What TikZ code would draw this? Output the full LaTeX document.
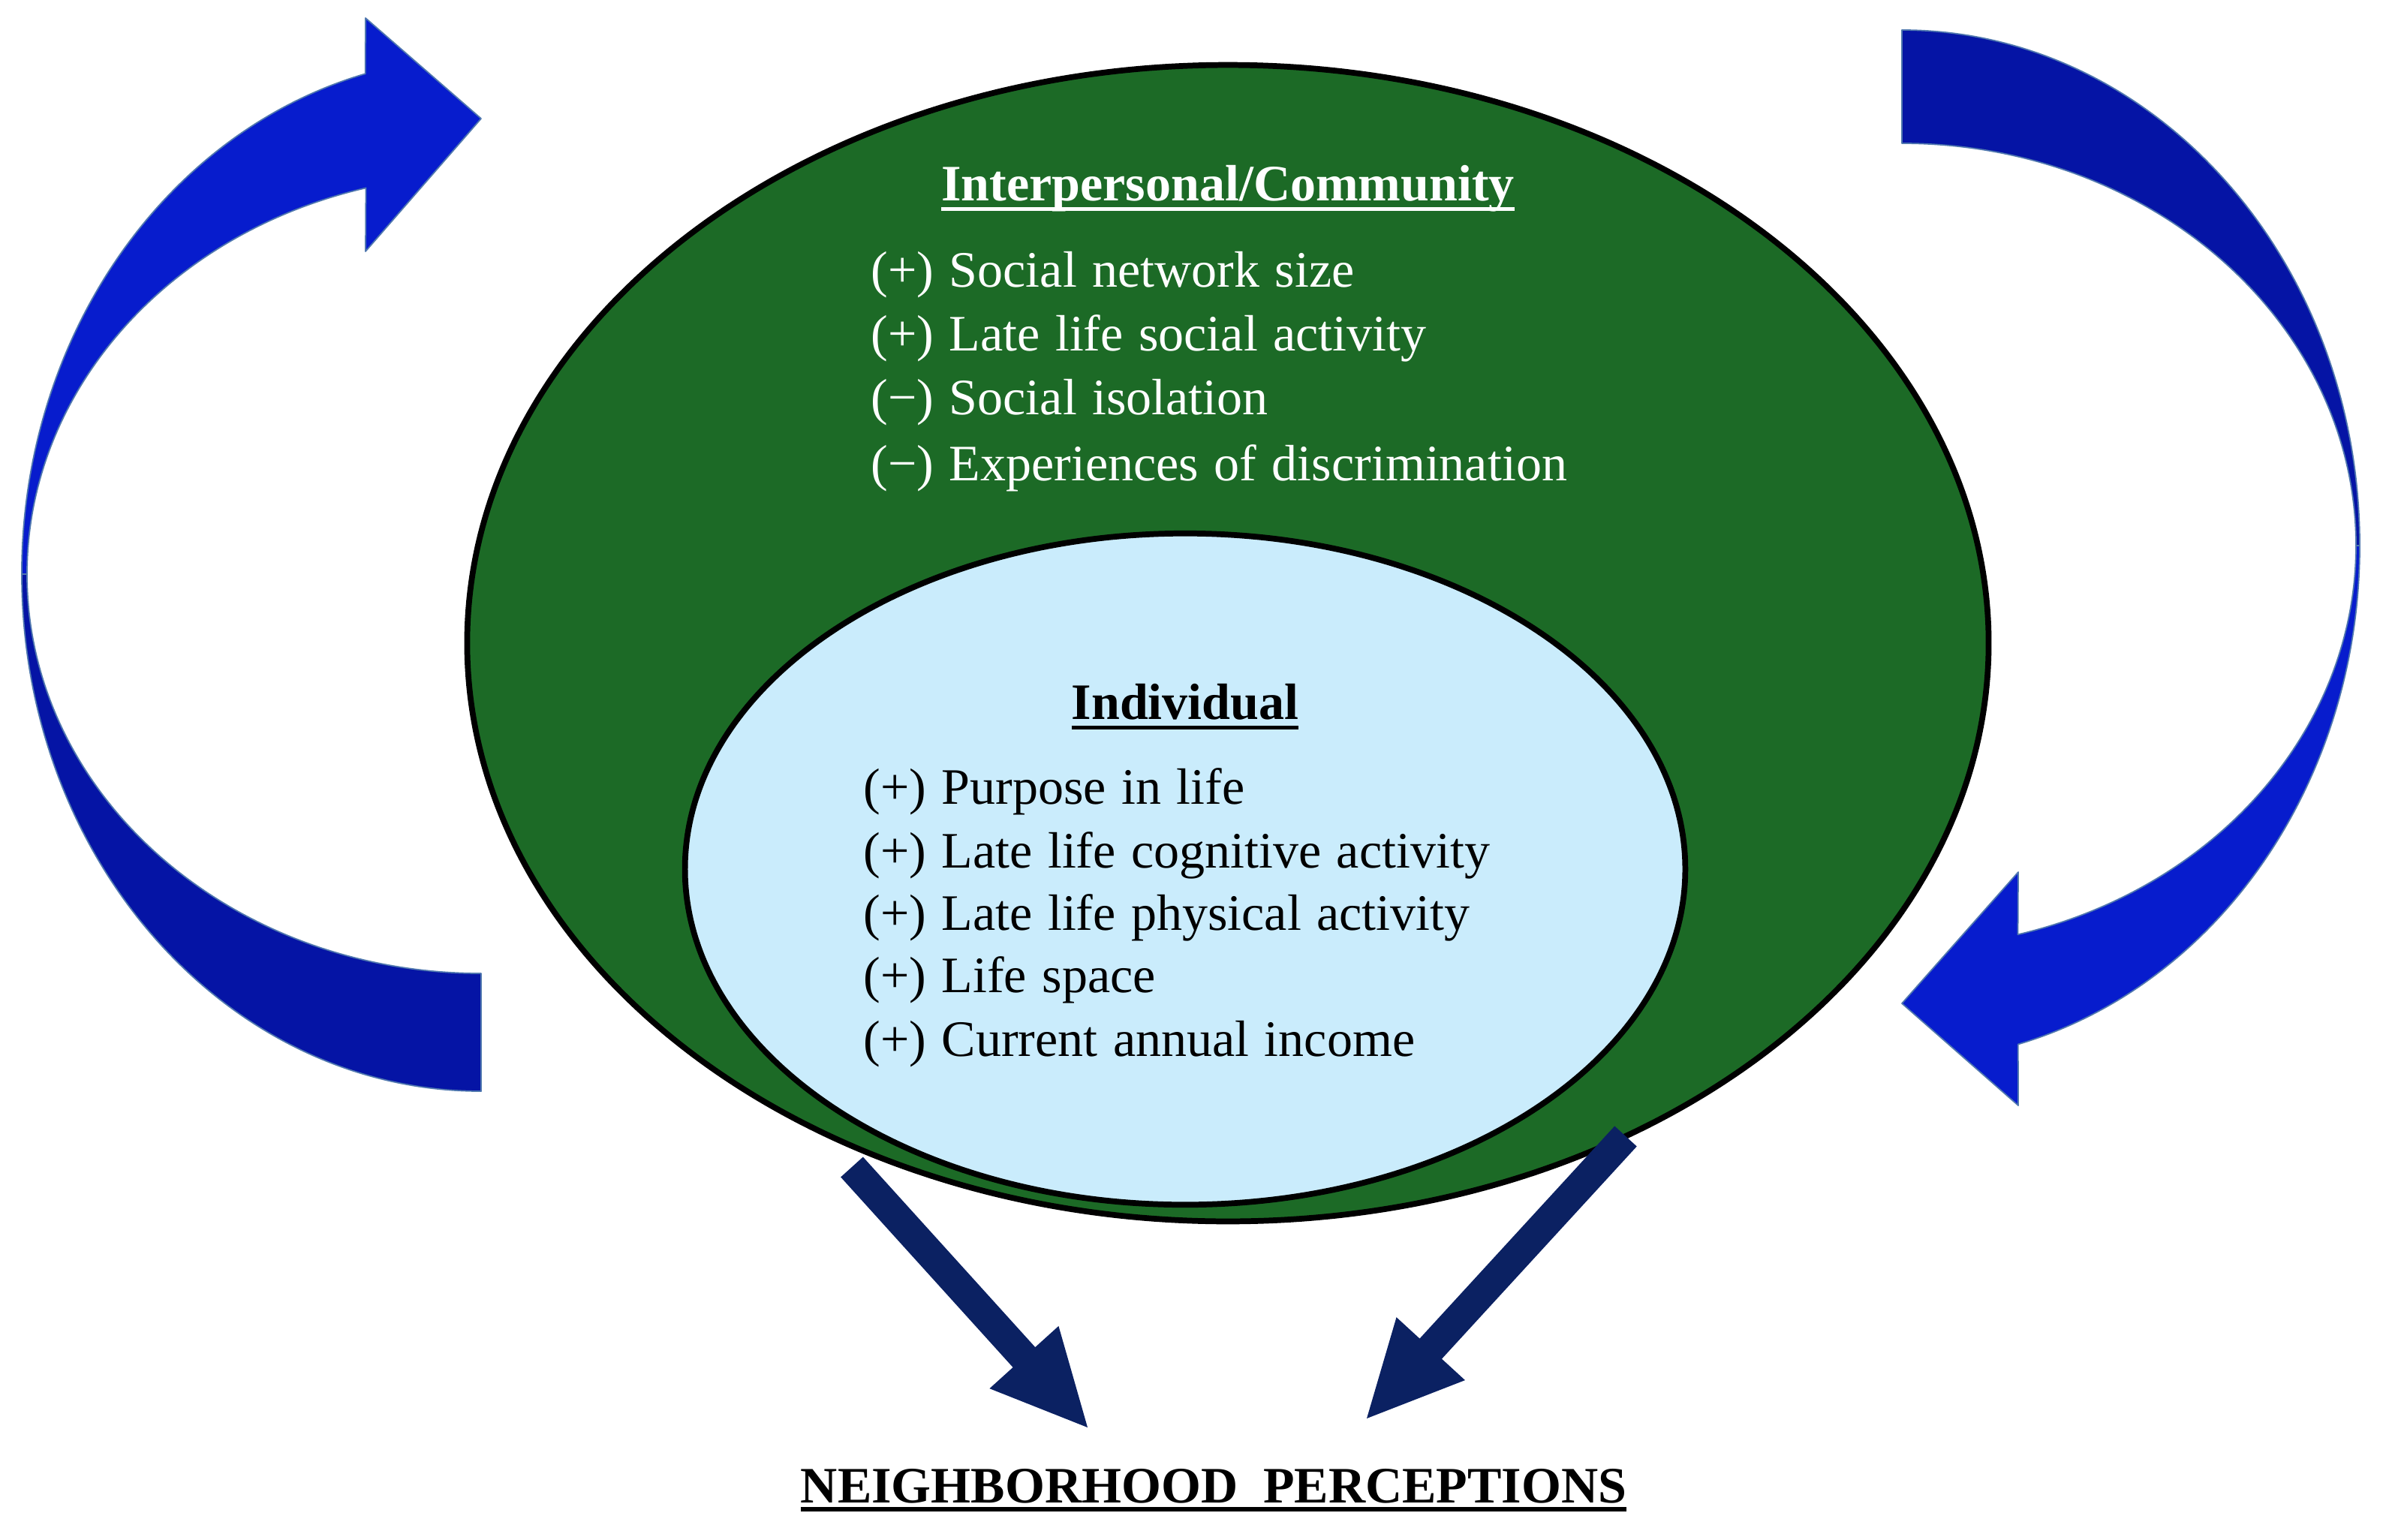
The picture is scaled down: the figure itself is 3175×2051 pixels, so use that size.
\documentclass[tikz,border=0pt]{standalone}
\usepackage{fontspec}
\setmainfont{Liberation Serif}[WordSpace=1.2]
\usetikzlibrary{shapes.geometric,calc}
\definecolor{bright}{RGB}{7,28,205}
\definecolor{darkb}{RGB}{5,20,165}
\definecolor{navyarr}{RGB}{11,33,98}
\definecolor{grn}{RGB}{28,106,38}
\definecolor{lblue}{RGB}{202,236,252}
\definecolor{edgeb}{RGB}{80,120,175}
\newcommand\ulbox[2][0.2em]{\setbox0\hbox{#2}\rlap{\rule[-#1]{\wd0}{0.075em}}\box0}
\begin{document}
\begin{tikzpicture}[x=0.01cm,y=-0.01cm,
  txt/.style={font=\fontsize{19.35pt}{23pt}\selectfont, inner sep=0pt, anchor=base west},
  ttl/.style={font=\fontsize{19.35pt}{23pt}\selectfont\bfseries, inner sep=0pt, anchor=base},
  ribbon/.style={draw=edgeb, line width=0.5pt, line join=round},
  ring/.style={ellipse, draw=black, line width=2.2pt, inner sep=0pt},
  blockarrow/.style={fill=navyarr}]
\useasboundingbox (0,0) rectangle (3175,2051);

% left looping arrow
\path[ribbon, fill=darkb] (29,765) arc[start angle=180, end angle=90, x radius=612, y radius=689]
  -- (641,1297) arc[start angle=90, end angle=180, x radius=605, y radius=532] -- cycle;
\path[ribbon, fill=bright] (486.7,98.3) arc[start angle=255.4, end angle=180, x radius=612, y radius=689]
  -- (36,765) arc[start angle=180, end angle=255.3, x radius=605, y radius=532]
  -- (487,335) -- (641,158) -- (487,24) -- cycle;

% right looping arrow
\path[ribbon, fill=darkb] (2534,40) arc[start angle=270, end angle=360, x radius=610, y radius=687]
  -- (3139,727) arc[start angle=360, end angle=270, x radius=605, y radius=536] -- cycle;
\path[ribbon, fill=bright] (3144,727) arc[start angle=0, end angle=75.3, x radius=610, y radius=687]
  -- (2689,1473) -- (2534,1337) -- (2689,1162)
  -- (2688.5,1245.2) arc[start angle=75.2, end angle=0, x radius=605, y radius=536] -- cycle;

% ellipses
\node[ring, fill=grn, minimum width=20.26cm, minimum height=15.4cm] (comm) at (1636,857) {};
\node[ring, fill=lblue, minimum width=13.32cm, minimum height=8.94cm] (indiv) at (1579,1158) {};

% community text
\node[ttl, text=white] (ctitle) at (1636,267) {\ulbox{Interpersonal/Community}};
\node[txt, text=white] (c1) at (1160,382) {(+) Social network size};
\node[txt, text=white] (c2) at (1160,467) {(+) Late life social activity};
\node[txt, text=white] (c3) at (1160,552) {(−) Social isolation};
\node[txt, text=white] (c4) at (1160,640) {(−) Experiences of discrimination};

% individual text
\node[ttl] (ititle) at (1579,958) {\ulbox{Individual}};
\node[txt] (i1) at (1150,1071) {(+) Purpose in life};
\node[txt] (i2) at (1150,1156) {(+) Late life cognitive activity};
\node[txt] (i3) at (1150,1239) {(+) Late life physical activity};
\node[txt] (i4) at (1150,1322) {(+) Life space};
\node[txt] (i5) at (1150,1407) {(+) Current annual income};

% outcome
\node[ttl] (np) at (1617,2002) {\ulbox[0.17em]{NEIGHBORHOOD\hspace{0.5em}PERCEPTIONS}};

% straight block arrows
\coordinate (ls) at (1135,1555); \coordinate (lt) at (1449,1902);
\coordinate (rs) at (2166,1514); \coordinate (rt) at (1821,1890);
\coordinate (lb) at ($(lt)!1.26cm!(ls)$);
\coordinate (rb) at ($(rt)!1.26cm!(rs)$);
\fill[blockarrow] ($(ls)!0.2cm!90:(lt)$) -- ($(lb)!0.2cm!90:(lt)$) -- ($(lb)!0.62cm!90:(lt)$) -- (lt)
  -- ($(lb)!0.62cm!-90:(lt)$) -- ($(lb)!0.2cm!-90:(lt)$) -- ($(ls)!0.2cm!-90:(lt)$) -- cycle;
\fill[blockarrow] ($(rs)!0.2cm!90:(rt)$) -- ($(rb)!0.2cm!90:(rt)$) -- ($(rb)!0.62cm!90:(rt)$) -- (rt)
  -- ($(rb)!0.62cm!-90:(rt)$) -- ($(rb)!0.2cm!-90:(rt)$) -- ($(rs)!0.2cm!-90:(rt)$) -- cycle;
\end{tikzpicture}
\end{document}
